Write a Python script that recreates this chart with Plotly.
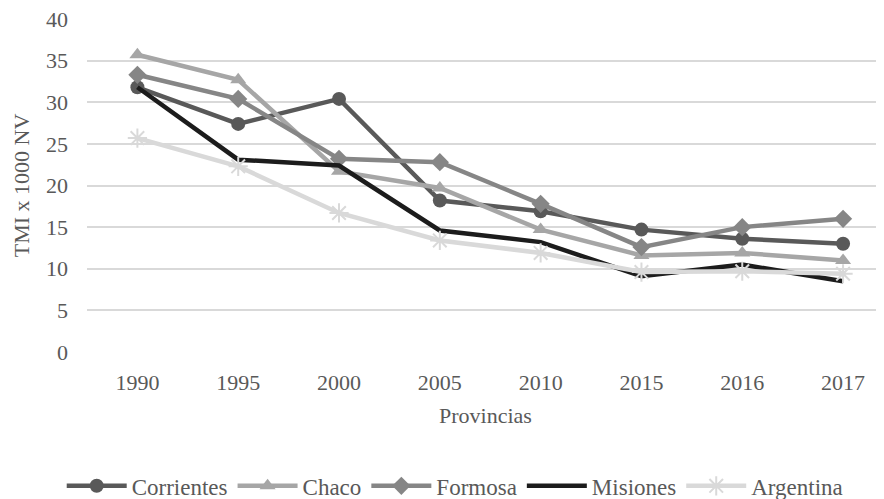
import plotly.graph_objects as go

years = ["1990", "1995", "2000", "2005", "2010", "2015", "2016", "2017"]
corrientes = [31.8, 27.4, 30.4, 18.2, 16.9, 14.7, 13.6, 13.0]
chaco = [35.7, 32.7, 21.7, 19.7, 14.7, 11.6, 11.9, 11.0]
formosa = [33.3, 30.4, 23.2, 22.8, 17.8, 12.6, 15.0, 16.0]
misiones = [31.8, 23.1, 22.4, 14.6, 13.2, 9.1, 10.5, 8.5]
argentina = [25.7, 22.3, 16.7, 13.4, 11.9, 9.6, 9.7, 9.4]

series = [
    ("Corrientes", corrientes, "#595959", "circle"),
    ("Chaco", chaco, "#a6a6a6", "triangle-up"),
    ("Formosa", formosa, "#868686", "diamond"),
    ("Misiones", misiones, "#1c1c1c", None),
    ("Argentina", argentina, "#d9d9d9", "asterisk-open"),
]

fig = go.Figure()
for name, vals, color, sym in series:
    if sym is None:
        mode = "lines"
        marker = None
    elif sym == "asterisk-open":
        mode = "lines+markers"
        marker = dict(symbol=sym, size=16, color=color, line=dict(color=color, width=2))
    else:
        mode = "lines+markers"
        marker = dict(symbol=sym, size=14, color=color)
    fig.add_trace(go.Scatter(
        x=list(range(len(years))), y=vals, name=name, mode=mode,
        line=dict(color=color, width=4.5), marker=marker,
    ))

font = "Liberation Serif"
# page body has an 8px margin, so the figure is sized to fit inside the window
fig.update_layout(
    width=876, height=491,
    margin=dict(l=79, r=0, t=11, b=147, autoexpand=False),
    paper_bgcolor="white", plot_bgcolor="white",
    font=dict(family=font, size=22, color="#595959"),
    showlegend=True,
    legend=dict(orientation="h", x=0.462, xanchor="center", y=-0.402, yanchor="middle",
                font=dict(family=font, size=23, color="#595959"), itemwidth=60,
                traceorder="normal"),
    xaxis=dict(
        tickmode="array", tickvals=list(range(len(years))), ticktext=years,
        range=[-0.5, 7.406], showgrid=False, zeroline=False, showline=False,
        title=dict(text="Provincias", font=dict(family=font, size=22, color="#595959"), standoff=13),
        ticks="", ticklabelstandoff=15, automargin=False,
    ),
    yaxis=dict(
        range=[0, 40], tickvals=[0, 5, 10, 15, 20, 25, 30, 35, 40],
        showgrid=True, gridcolor="#d9d9d9", gridwidth=1.5, zeroline=False, showline=False,
        title=dict(text="TMI x 1000 NV", font=dict(family=font, size=22, color="#595959"), standoff=10),
        ticks="", ticklabelstandoff=18, automargin=False, ticklabeloverflow="allow",
    ),
)
fig.write_html("out.html")
